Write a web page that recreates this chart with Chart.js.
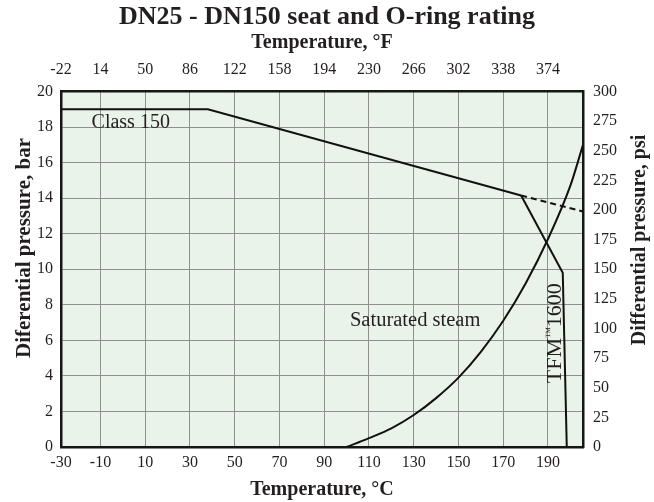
<!DOCTYPE html>
<html>
<head>
<meta charset="utf-8">
<script src="https://cdn.jsdelivr.net/npm/chart.js@4.4.1/dist/chart.umd.min.js"></script>
<style>
  html, body { margin: 0; padding: 0; background: #fff; }
  #wrap { width: 654px; height: 502px; }
</style>
</head>
<body>
<div id="wrap"><canvas id="ratingChart" width="654" height="502"></canvas></div>
<script>
// eixo de temperatura (°C), o grafico original comeca um pouco depois de -30
const X_MIN = -27.65;
const X_MAX = 205.65;
const ticksC = [-30, -10, 10, 30, 50, 70, 90, 110, 130, 150, 170, 190];
const ticksF = [-22, 14, 50, 86, 122, 158, 194, 230, 266, 302, 338, 374];

// class 150
const classTemp = [-27.65, 38, 178];
const classBar = [19, 19, 14.15];
// continuacao tracejada
const classDashTemp = [178, 205.65];
const classDashBar = [14.15, 13.25];

// TFM 1600
const tfmTemp = [178, 196.6, 198.4];
const tfmBar = [14.15, 9.8, 0];

// vapor saturado
const steamTemp = [100, 110, 120, 130, 140, 150, 160, 170, 180, 190, 200, 205.65];
const steamBar = [0, 0.5, 1.05, 1.8, 2.75, 3.9, 5.35, 7.1, 9.2, 11.7, 14.7, 17.0];

const SERIF = "'Liberation Serif', 'DejaVu Serif', serif";
const TEXT = '#231f20';
const GRID = '#8f8f8f';
const BORDER = { color: '#161616', width: 2.5 };

function pontos(xs, ys) {
    return xs.map((x, i) => ({ x: x, y: ys[i] }));
}

function ticksFixos(scale) {
    scale.ticks = ticksC.map(v => ({ value: Math.max(v, X_MIN) }));
}

// fundo verde da area do grafico
const fundoPlugin = {
    id: 'fundo',
    beforeDraw(chart) {
        const a = chart.chartArea;
        const ctx = chart.ctx;
        ctx.save();
        ctx.fillStyle = '#e9f3e9';
        ctx.fillRect(a.left, a.top, a.right - a.left, a.bottom - a.top);
        ctx.restore();
    }
};

function textoVertical(ctx, txt, cx, cy) {
    ctx.save();
    ctx.translate(cx, cy);
    ctx.rotate(-Math.PI / 2);
    ctx.textAlign = 'center';
    ctx.textBaseline = 'middle';
    ctx.fillText(txt, 0, 0);
    ctx.restore();
}

// textos dentro do grafico + titulos dos eixos y (os dois leem de baixo pra cima)
const textosPlugin = {
    id: 'textos',
    afterDatasetsDraw(chart) {
        const ctx = chart.ctx;
        const x = chart.scales.x;
        const y = chart.scales.y;
        ctx.save();
        ctx.fillStyle = TEXT;
        ctx.font = '20px ' + SERIF;
        ctx.textBaseline = 'middle';
        ctx.textAlign = 'left';
        ctx.fillText('Class 150', x.getPixelForValue(-14), y.getPixelForValue(18.25));
        ctx.font = '20.5px ' + SERIF;
        ctx.fillText('Saturated steam', x.getPixelForValue(101.5), y.getPixelForValue(7.1));

        // TFM(tm)1600 com o (tm) pequeno
        ctx.translate(x.getPixelForValue(193.1), y.getPixelForValue(6.4));
        ctx.rotate(-Math.PI / 2);
        ctx.font = '22px ' + SERIF;
        const a = ctx.measureText('TFM').width;
        ctx.font = '11px ' + SERIF;
        const b = ctx.measureText('\u2122').width;
        ctx.font = '22px ' + SERIF;
        const c = ctx.measureText('1600').width;
        let pos = -(a + b + c) / 2;
        ctx.fillText('TFM', pos, 0);
        pos += a;
        ctx.font = '11px ' + SERIF;
        ctx.fillText('\u2122', pos, -5);
        pos += b;
        ctx.font = '22px ' + SERIF;
        ctx.fillText('1600', pos, 0);
        ctx.restore();

        ctx.save();
        ctx.fillStyle = TEXT;
        ctx.font = 'bold 21px ' + SERIF;
        textoVertical(ctx, 'Diferential pressure, bar', 25, 248);
        ctx.font = 'bold 20px ' + SERIF;
        textoVertical(ctx, 'Differential pressure, psi', 640, 240);
        ctx.restore();
    }
};

const linha = { borderColor: '#111', borderWidth: 2, pointRadius: 0, fill: false, showLine: true };

new Chart(document.getElementById('ratingChart'), {
    type: 'scatter',
    data: {
        datasets: [
            Object.assign({ label: 'Class 150', data: pontos(classTemp, classBar) }, linha),
            Object.assign({ label: 'Class 150 ext', data: pontos(classDashTemp, classDashBar), borderDash: [6, 4] }, linha),
            Object.assign({ label: 'TFM 1600', data: pontos(tfmTemp, tfmBar) }, linha),
            Object.assign({ label: 'Saturated steam', data: pontos(steamTemp, steamBar), cubicInterpolationMode: 'monotone' }, linha)
        ]
    },
    options: {
        responsive: false,
        animation: false,
        layout: { padding: 0 },
        plugins: {
            legend: { display: false },
            tooltip: { enabled: false },
            title: {
                display: true,
                text: 'DN25 - DN150 seat and O-ring rating',
                color: TEXT,
                font: { family: SERIF, size: 26, weight: 'bold', lineHeight: 1 },
                padding: { top: 4, bottom: 0 }
            }
        },
        scales: {
            x: {
                type: 'linear',
                position: 'bottom',
                min: X_MIN,
                max: X_MAX,
                afterBuildTicks: ticksFixos,
                afterFit(s) { s.height = 55; },
                grid: { color: GRID, lineWidth: 1, drawTicks: false },
                border: BORDER,
                ticks: {
                    color: TEXT,
                    padding: 6,
                    maxRotation: 0,
                    autoSkip: false,
                    font: { family: SERIF, size: 16 },
                    callback: (v, i) => ticksC[i]
                },
                title: {
                    display: true,
                    text: 'Temperature, \u00b0C',
                    color: TEXT,
                    font: { family: SERIF, size: 20, weight: 'bold' },
                    padding: { top: 0, bottom: 0 }
                }
            },
            x2: {
                type: 'linear',
                position: 'top',
                min: X_MIN,
                max: X_MAX,
                afterBuildTicks: ticksFixos,
                afterFit(s) { s.height = 61.5; },
                grid: { drawOnChartArea: false, drawTicks: false },
                border: BORDER,
                ticks: {
                    color: TEXT,
                    padding: 12,
                    maxRotation: 0,
                    autoSkip: false,
                    font: { family: SERIF, size: 16 },
                    callback: (v, i) => ticksF[i]
                },
                title: {
                    display: true,
                    text: 'Temperature, \u00b0F',
                    color: TEXT,
                    font: { family: SERIF, size: 20, weight: 'bold' },
                    padding: { top: 1, bottom: 0 }
                }
            },
            y: {
                type: 'linear',
                position: 'left',
                min: 0,
                max: 20,
                afterFit(s) { s.width = 61; },
                grid: { color: GRID, lineWidth: 1, drawTicks: false },
                border: BORDER,
                ticks: {
                    stepSize: 2,
                    color: TEXT,
                    padding: 8,
                    font: { family: SERIF, size: 16 }
                },
                title: { display: false }
            },
            y2: {
                type: 'linear',
                position: 'right',
                min: 0,
                max: 300,
                afterFit(s) { s.width = 71; },
                grid: { drawOnChartArea: false, drawTicks: false },
                border: BORDER,
                ticks: {
                    stepSize: 25,
                    color: TEXT,
                    padding: 10,
                    font: { family: SERIF, size: 16 }
                },
                title: { display: false }
            }
        }
    },
    plugins: [fundoPlugin, textosPlugin]
});
</script>
</body>
</html>
